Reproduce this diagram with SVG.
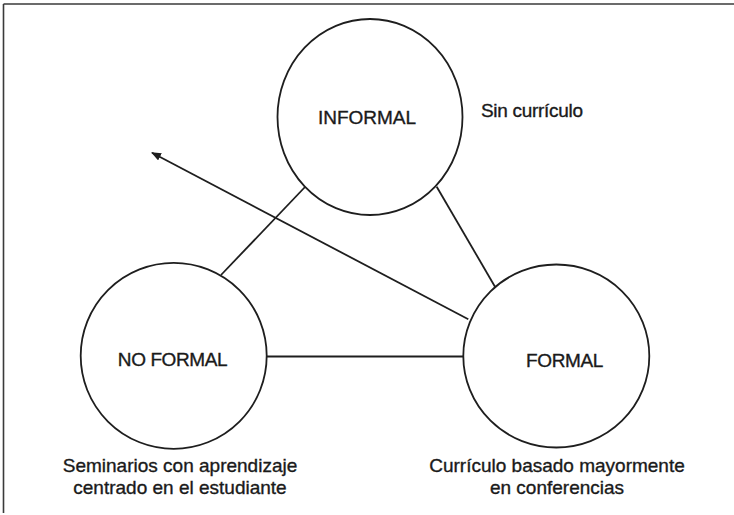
<svg xmlns="http://www.w3.org/2000/svg" width="734" height="515" viewBox="0 0 734 515">
  <style>
    .node { fill: #ffffff; stroke: #1e1e1e; stroke-width: 1.8; }
    .edge { stroke: #1e1e1e; stroke-width: 1.8; fill: none; }
    .frame { stroke: #3a3a3a; stroke-width: 1.6; fill: none; }
    text { font-family: "Liberation Sans", Arial, sans-serif; font-size: 19px; fill: #1a1a1a; stroke: #1a1a1a; stroke-width: 0.35; }
  </style>
  <defs>
    <marker id="arrow" viewBox="0 0 10 8" refX="9" refY="4" markerWidth="10" markerHeight="8" markerUnits="userSpaceOnUse" orient="auto">
      <path d="M0,0 L10,4 L0,8 z" fill="#1e1e1e"/>
    </marker>
  </defs>
  <rect width="734" height="515" fill="#ffffff"/>
  <g id="frame">
    <line class="frame" x1="3.5" y1="4" x2="734" y2="4"/>
    <line class="frame" x1="3.5" y1="4" x2="3.5" y2="513"/>
  </g>
  <g id="connectors">
    <line class="edge" x1="305" y1="187" x2="221" y2="275"/>
    <line class="edge" x1="436.7" y1="186.7" x2="495" y2="286.7"/>
    <line class="edge" x1="266.7" y1="356.5" x2="463.3" y2="356.5"/>
    <line class="edge" x1="468.3" y1="319.3" x2="152" y2="152.7" marker-end="url(#arrow)"/>
  </g>
  <g id="informal">
    <ellipse class="node" cx="370" cy="117" rx="92.5" ry="98"/>
    <text x="367" y="124" text-anchor="middle">INFORMAL</text>
    <text x="481" y="117" letter-spacing="-0.3">Sin currículo</text>
  </g>
  <g id="no-formal">
    <circle class="node" cx="173.7" cy="355.8" r="93"/>
    <text x="172.5" y="366" text-anchor="middle" letter-spacing="-0.4">NO FORMAL</text>
    <text x="180" y="471.5" text-anchor="middle">Seminarios con aprendizaje</text>
    <text x="180" y="494" text-anchor="middle">centrado en el estudiante</text>
  </g>
  <g id="formal">
    <ellipse class="node" cx="556.3" cy="356" rx="93" ry="91.5"/>
    <text x="564.5" y="367" text-anchor="middle" letter-spacing="-0.4">FORMAL</text>
    <text x="557" y="471.5" text-anchor="middle">Currículo basado mayormente</text>
    <text x="557" y="493.5" text-anchor="middle">en conferencias</text>
  </g>
</svg>
